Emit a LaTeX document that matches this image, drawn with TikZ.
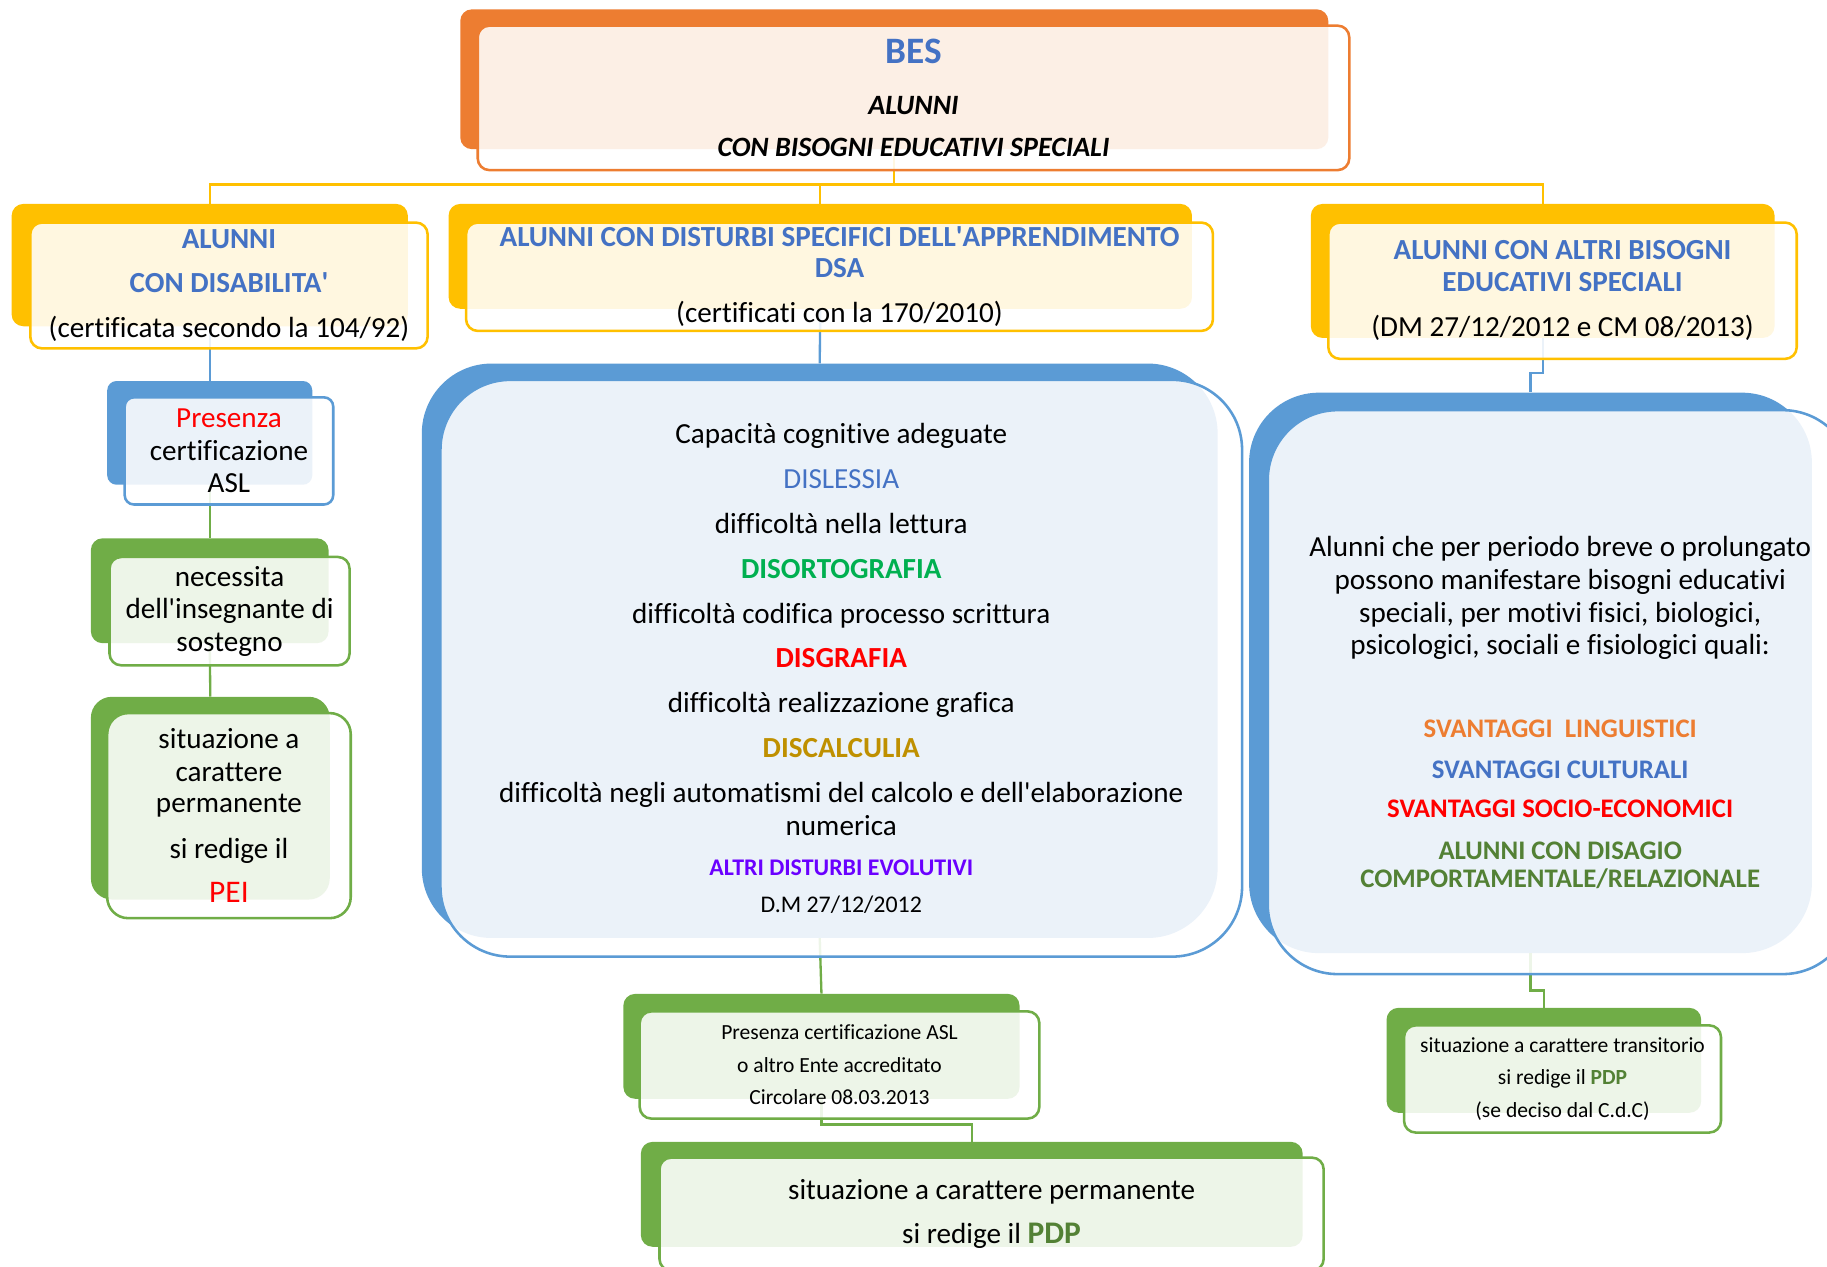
\documentclass[tikz,border=0pt]{standalone}
\usepackage{fontspec}
\setmainfont{Carlito}[Ligatures={TeX,NoCommon}]
\usepackage{tikz}
\usetikzlibrary{fit}

\definecolor{orangeline}{HTML}{ED7D31}
\definecolor{goldline}{HTML}{FFC000}
\definecolor{blueline}{HTML}{5B9BD5}
\definecolor{greenline}{HTML}{70AD47}
\definecolor{txtblue}{HTML}{4472C4}
\definecolor{txtred}{HTML}{FF0000}
\definecolor{txtgreen}{HTML}{00B050}
\definecolor{txtgold}{HTML}{BF9000}
\definecolor{txtpurple}{HTML}{6A00FF}
\definecolor{txtorange}{HTML}{ED7D31}
\definecolor{txtdkgreen}{HTML}{538135}

\newcommand{\apos}{\textquotesingle}
\newcommand{\hb}[1]{\textbf{\color{txtblue}#1}}
\newcommand{\sv}[2]{{\fontsize{23}{24}\selectfont\bfseries\color{#1}#2}}
\newcommand{\pad}[1]{\rule{0pt}{#1pt}}

\tikzset{
  backbox/.style={fill=#1, rounded corners=10pt, inner sep=0pt},
  frontbox/.style={draw=#1, line width=2.2pt, fill=white, fill opacity=0.88,
    text opacity=1, rounded corners=10pt, inner sep=0pt, align=center,
    font=\fontsize{25}{28}\selectfont},
  link/.style={draw=#1, line width=2pt},
}

\begin{document}
\begin{tikzpicture}[x=1pt, y=1pt]
  \useasboundingbox (0,0) rectangle (1568,-1087);
  \clip (0,0) rectangle (1568,-1087);
  %% back shapes
  \node[backbox=orangeline, fit={(395,-8)(1140,-128)}] (besB) {};
  \node[backbox=goldline, fit={(10,-175)(350,-280)}] (disB) {};
  \node[backbox=goldline, fit={(385,-175)(1023,-265)}] (dsaB) {};
  \node[backbox=goldline, fit={(1125,-175)(1523,-290)}] (altB) {};
  \node[backbox=blueline, rounded corners=8pt, fit={(92,-327)(268,-416)}] (aslB) {};
  \node[backbox=greenline, fit={(78,-462)(282,-552)}] (sosB) {};
  \node[backbox=greenline, rounded corners=18pt, fit={(78,-598)(283,-772)}] (peiB) {};
  \node[backbox=blueline, rounded corners=60pt, fit={(362,-312)(1045,-805)}] (dsaTB) {};
  \node[backbox=blueline, rounded corners=60pt, fit={(1072,-337)(1555,-818)}] (altTB) {};
  \node[backbox=greenline, fit={(535,-853)(875,-943)}] (certB) {};
  \node[backbox=greenline, fit={(550,-980)(1118,-1070)}] (pdpB) {};
  \node[backbox=greenline, fit={(1190,-865)(1460,-955)}] (tranB) {};

  %% links
  \path[link=goldline] (besB.south) -- ++(0,-30) -| (disB.north);
  \path[link=goldline] (besB.south) -- ++(0,-30) -| (dsaB.north);
  \path[link=goldline] (besB.south) -- ++(0,-30) -| (altB.north);
  \path[link=blueline] (disB.south) -- (aslB.north);
  \path[link=greenline] (aslB.south) -- (sosB.north);
  \path[link=greenline] (sosB.south) -- (peiB.north);
  \path[link=blueline] (dsaB.south) -- (dsaTB.north);
  \path[link=greenline] (dsaTB.south) -- (certB.north);
  \path[link=greenline] (certB.south) -- ++(0,-22) -| (pdpB.north);
  \path[link=blueline] (altB.south) -- ++(0,-30) -| (altTB.north);
  \path[link=greenline] (altTB.south) -- ++(0,-32) -| (tranB.north);

  %% front boxes
  \node[frontbox=orangeline, minimum width=748, minimum height=124,
    font=\fontsize{24}{28}\selectfont\bfseries\itshape] (bes) at (784,-84)
    {{\fontsize{32}{34}\selectfont\upshape\color{txtblue}BES}\\[15pt]
     ALUNNI\\[8pt] CON BISOGNI EDUCATIVI SPECIALI};
  \node[frontbox=goldline, minimum width=341, minimum height=108] (dis) at (196.5,-245)
    {\hb{ALUNNI}\\[10pt] \hb{CON DISABILITA\apos}\\[11pt] (certificata secondo la 104/92)};
  \node[frontbox=goldline, minimum width=641, minimum height=93] (dsa) at (720.5,-237.5)
    {\hb{ALUNNI CON DISTURBI SPECIFICI DELL\apos APPRENDIMENTO}\\[-2pt] \hb{DSA}\\[11pt]
     (certificati con la 170/2010)};
  \node[frontbox=goldline, minimum width=402, minimum height=117] (alt) at (1341,-249.5)
    {\hb{ALUNNI CON ALTRI BISOGNI}\\[-1pt] \hb{EDUCATIVI SPECIALI}\\[11pt]
     (DM 27/12/2012 e CM 08/2013)};
  \node[frontbox=blueline, rounded corners=8pt, minimum width=179, minimum height=92] (asl) at (196.5,-387)
    {{\color{txtred}Presenza}\\ certificazione\\ ASL};
  \node[frontbox=greenline, minimum width=206, minimum height=93] (sos) at (197,-524.5)
    {necessita\\ dell\apos insegnante di\\ sostegno};
  \node[frontbox=greenline, rounded corners=18pt, minimum width=209, minimum height=176] (pei) at (196.5,-700)
    {situazione a\\ carattere\\[-1pt] permanente\\[11pt] si redige il\\[10pt]
     {\fontsize{27}{28}\selectfont\color{txtred}PEI}};
  \node[frontbox=blueline, rounded corners=60pt, minimum width=688, minimum height=495] (dsaT) at (722,-573.5)
    {Capacità cognitive adeguate\\[10.5pt]
     {\color{txtblue}DISLESSIA}\\[10.5pt]
     difficoltà nella lettura\\[10.5pt]
     \textbf{\color{txtgreen}DISORTOGRAFIA}\\[10.5pt]
     difficoltà codifica processo scrittura\\[10.5pt]
     \textbf{\color{txtred}DISGRAFIA}\\[10.5pt]
     difficoltà realizzazione grafica\\[10.5pt]
     \textbf{\color{txtgold}DISCALCULIA}\\[10.5pt]
     difficoltà negli automatismi del calcolo e dell\apos elaborazione\\
     numerica\\[7pt]
     {\fontsize{20.5}{22}\selectfont\bfseries\color{txtpurple}ALTRI DISTURBI EVOLUTIVI}\\[3pt]
     {\fontsize{20.5}{22}\selectfont D.M 27/12/2012}};
  \node[frontbox=blueline, rounded corners=60pt, minimum width=502, minimum height=484] (altT) at (1339,-594)
    {\pad{53}Alunni che per periodo breve o prolungato\\
     possono manifestare bisogni educativi\\
     speciali, per motivi fisici, biologici,\\
     psicologici, sociali e fisiologici quali:\\[43pt]
     \sv{txtorange}{SVANTAGGI\ \ LINGUISTICI}\\[7pt]
     \sv{txtblue}{SVANTAGGI CULTURALI}\\[6pt]
     \sv{txtred}{SVANTAGGI SOCIO-ECONOMICI}\\[8pt]
     \sv{txtdkgreen}{ALUNNI CON DISAGIO}\\[-4pt]
     \sv{txtdkgreen}{COMPORTAMENTALE/RELAZIONALE}};
  \node[frontbox=greenline, minimum width=343, minimum height=92,
    font=\fontsize{18.5}{28}\selectfont] (cert) at (720.5,-914)
    {Presenza certificazione ASL\\ o altro Ente accreditato\\ Circolare 08.03.2013};
  \node[frontbox=greenline, minimum width=570, minimum height=97] (pdp) at (851,-1042)
    {situazione a carattere permanente\\[10pt]
     si redige il {\fontsize{27}{28}\selectfont\bfseries\color{txtdkgreen}PDP}};
  \node[frontbox=greenline, minimum width=272, minimum height=92,
    font=\fontsize{18.5}{28}\selectfont] (tran) at (1341,-926)
    {situazione a carattere transitorio\\
     si redige il \textbf{\color{txtdkgreen}PDP}\\ (se deciso dal C.d.C)};
\end{tikzpicture}
\end{document}
